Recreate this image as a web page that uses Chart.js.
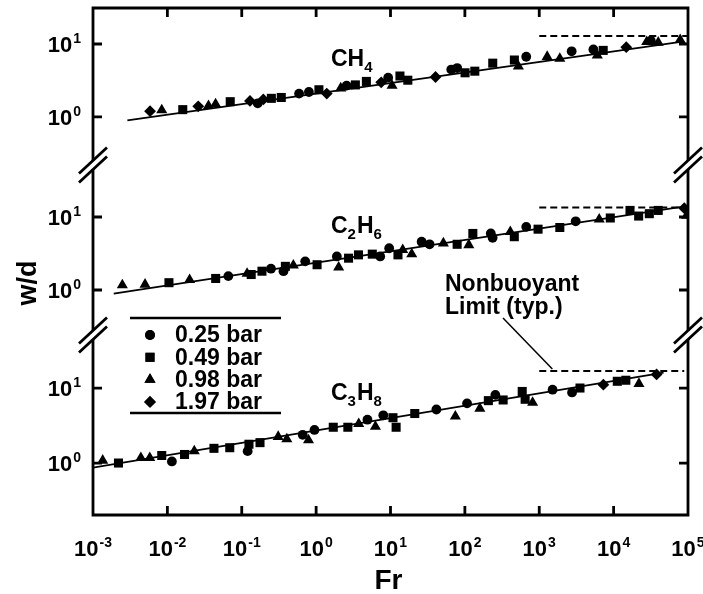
<!DOCTYPE html>
<html>
<head>
<meta charset="utf-8">
<script src="https://cdn.jsdelivr.net/npm/chart.js@4.4.1/dist/chart.umd.min.js"></script>
<style>
  html, body { margin: 0; padding: 0; background: #fff; }
  #wrap { width: 703px; height: 594px; position: relative; }
</style>
</head>
<body>
<div id="wrap"><canvas id="chart"></canvas></div>
<script>
/* ── Data: [Fr, w/d] pairs ────────────────────────────────────────── */

const PRESSURES = ['0.25 bar', '0.49 bar', '0.98 bar', '1.97 bar'];
const MARKERS = ['circle', 'rect', 'triangle', 'rectRot'];
const MARKER_RADII = [4.9, 6.4, 6.4, 5.9];

// CH4
const CH4_025 = [[0.164, 1.54], [0.59, 2.09], [0.80, 2.20], [2.57, 2.69], [9.3, 3.46], [65.6, 4.46], [78.8, 4.68], [668, 6.68], [2727, 7.94], [5346, 8.42], [31600, 11.1]];
const CH4_049 = [[0.0161, 1.26], [0.07, 1.62], [0.25, 1.80], [0.34, 1.85], [1.09, 2.36], [3.37, 2.75], [4.74, 3.07], [13.4, 3.64], [17.1, 3.19], [100.6, 4.03], [136, 4.24], [237, 5.46], [463, 6.03], [7244, 8.17]];
const CH4_098 = [[0.0084, 1.24], [0.0357, 1.42], [0.0445, 1.50], [2.14, 2.48], [10.5, 2.69], [524, 4.93], [1278, 6.68], [1890, 6.32], [6030, 7.02], [27860, 10.7], [39800, 10.5], [78500, 11.4]];
const CH4_197 = [[0.00585, 1.20], [0.026, 1.40], [0.129, 1.66], [0.195, 1.74], [1.39, 2.09], [7.5, 2.98], [40.3, 3.53], [14790, 9.04]];
const CH4_FIT = [[0.0029, 0.90], [80000, 10.7]];
const CH4_LIMIT = [[1000, 12.9], [100000, 12.9]];

// C2H6
const C2H6_025 = [[0.066, 1.55], [0.247, 1.96], [0.364, 1.81], [0.713, 2.47], [1.90, 2.88], [7.27, 2.88], [9.6, 3.73], [26.2, 4.59], [33.5, 4.23], [223, 5.95], [236, 5.2], [668, 7.33], [3090, 8.72]];
const C2H6_049 = [[0.0105, 1.26], [0.0446, 1.44], [0.134, 1.63], [0.187, 1.81], [0.386, 2.11], [1.03, 2.22], [2.73, 2.73], [3.71, 3.03], [5.69, 3.10], [12.6, 3.03], [78.7, 4.23], [128, 5.95], [462, 5.37], [964, 6.81], [1890, 7.18], [9020, 9.69], [16600, 12.3], [21700, 10.3], [30200, 11.1], [39800, 12.3]];
const C2H6_098 = [[0.00248, 1.17], [0.00501, 1.19], [0.0199, 1.38], [0.118, 1.68], [0.494, 2.18], [2.01, 2.04], [14.6, 3.55], [19.3, 3.10], [51.4, 4.37], [113, 4.14], [408, 6.27], [6400, 9.3], [96000, 10.5]];
const C2H6_197 = [[89000, 13.2]];
const C2H6_FIT = [[0.0019, 0.89], [100000, 14.2]];
const C2H6_LIMIT = [[1000, 13.5], [89000, 13.5]];

// C3H8
const C3H8_025 = [[0.0115, 1.05], [0.12, 1.44], [0.66, 2.38], [0.95, 2.76], [4.9, 3.78], [8.0, 4.33], [41.4, 5.17], [107, 6.24], [257, 8.1], [1510, 9.5], [2760, 8.73]];
const C3H8_049 = [[0.0022, 1.0], [0.0084, 1.26], [0.017, 1.30], [0.0423, 1.57], [0.069, 1.60], [0.125, 1.78], [0.176, 1.87], [1.70, 3.0], [2.67, 3.0], [10.8, 4.02], [11.9, 3.0], [21.2, 4.57], [207, 6.79], [327, 6.93], [590, 9.0], [646, 7.08], [3530, 10.0], [11200, 12.3], [14600, 12.7]];
const C3H8_098 = [[0.00135, 1.08], [0.0044, 1.17], [0.0058, 1.17], [0.023, 1.44], [0.309, 2.24], [0.404, 2.08], [0.79, 2.02], [3.74, 3.33], [6.27, 3.06], [74.5, 4.2], [159, 5.34], [814, 6.38], [21900, 11.4]];
const C3H8_197 = [[7280, 11.1], [37800, 15.2]];
const C3H8_FIT = [[0.001, 0.87], [47000, 16.0]];
const C3H8_LIMIT = [[1000, 16.9], [89000, 16.9]];

// gas names: alternating normal / subscript pieces
const CH4_NAME = ['CH', '4'];
const C2H6_NAME = ['C', '2', 'H', '6'];
const C3H8_NAME = ['C', '3', 'H', '8'];

const X_TICKS = [1e-3, 1e-2, 1e-1, 1e0, 1e1, 1e2, 1e3, 1e4, 1e5];
const X_EXPONENTS = ['-3', '-2', '-1', '0', '1', '2', '3', '4', '5'];
const Y_TICKS = [1, 10];
const Y_EXPONENTS = ['0', '1'];

const NOTE_LINES = ['Nonbuoyant', 'Limit (typ.)'];

/* ── Panels ────────────────────────────────────────────────────────── */

const PANELS = [
  { axis: 'y1', name: CH4_NAME, series: [CH4_025, CH4_049, CH4_098, CH4_197], fit: CH4_FIT, limit: CH4_LIMIT,
    min: Math.pow(10, -0.658), max: Math.pow(10, 1.493), weight: 157 },
  { axis: 'y2', name: C2H6_NAME, series: [C2H6_025, C2H6_049, C2H6_098, C2H6_197], fit: C2H6_FIT, limit: C2H6_LIMIT,
    min: Math.pow(10, -0.616), max: Math.pow(10, 1.712), weight: 170 },
  { axis: 'y3', name: C3H8_NAME, series: [C3H8_025, C3H8_049, C3H8_098, C3H8_197], fit: C3H8_FIT, limit: C3H8_LIMIT,
    min: Math.pow(10, -0.693), max: Math.pow(10, 1.707), weight: 180 },
];

const FONT = '"Liberation Sans", Arial, Helvetica, sans-serif';
const toXY = (pts) => pts.map(([x, y]) => ({ x, y }));

const datasets = [];
PANELS.forEach((p) => {
  p.series.forEach((pts, k) => {
    datasets.push({
      type: 'scatter', label: PRESSURES[k], data: toXY(pts), yAxisID: p.axis,
      pointStyle: MARKERS[k], pointRadius: MARKER_RADII[k], pointHoverRadius: MARKER_RADII[k],
      backgroundColor: '#000', borderColor: '#000', borderWidth: 0,
    });
  });
  datasets.push({
    type: 'line', label: 'fit', data: toXY(p.fit), yAxisID: p.axis,
    borderColor: '#000', borderWidth: 1.8, pointRadius: 0, fill: false, tension: 0,
  });
  datasets.push({
    type: 'line', label: 'limit', data: toXY(p.limit), yAxisID: p.axis,
    borderColor: '#000', borderWidth: 2, borderDash: [7, 4], pointRadius: 0, fill: false, tension: 0,
  });
});

// scales are used for mapping only; the frame and labels are drawn below
const hidden = {
  grid: { display: false, drawTicks: false, tickLength: 0 },
  border: { display: false },
  ticks: { display: false, padding: 0 },
};

const scales = {
  x: {
    type: 'logarithmic', position: 'bottom', min: 1e-3, max: 1e5, bounds: 'data',
    afterBuildTicks: (s) => { s.ticks = X_TICKS.map((v) => ({ value: v })); },
    ...hidden,
  },
};
PANELS.forEach((p, i) => {
  scales[p.axis] = {
    type: 'logarithmic', position: 'left', stack: 'wd', stackWeight: p.weight, weight: PANELS.length - i,
    min: p.min, max: p.max, bounds: 'data',
    afterBuildTicks: (s) => { s.ticks = Y_TICKS.map((v) => ({ value: v })); },
    ...hidden,
  };
});

/* ── Drawing helpers ───────────────────────────────────────────────── */

// "10" with a raised exponent; y is the baseline of "10"
function drawPow(ctx, exp, x, y, align) {
  ctx.font = `bold 22px ${FONT}`;
  const wb = ctx.measureText('10').width;
  ctx.font = `bold 14px ${FONT}`;
  const we = ctx.measureText(exp).width;
  const total = wb + 1 + we;
  const x0 = align === 'center' ? x - total / 2 : x - total;
  ctx.textAlign = 'left';
  ctx.textBaseline = 'alphabetic';
  ctx.font = `bold 22px ${FONT}`;
  ctx.fillText('10', x0, y);
  ctx.font = `bold 14px ${FONT}`;
  ctx.fillText(exp, x0 + wb + 1, y - 9);
}

// chemical formula with subscripts, starting at x on baseline y
function drawFormula(ctx, parts, x, y) {
  ctx.textAlign = 'left';
  ctx.textBaseline = 'alphabetic';
  let cx = x;
  parts.forEach((t, i) => {
    const sub = i % 2 === 1;
    ctx.font = sub ? `bold 15px ${FONT}` : `bold 23px ${FONT}`;
    ctx.fillText(t, cx, sub ? y + 6 : y);
    cx += ctx.measureText(t).width + (sub ? 1 : 0);
  });
}

function drawBreak(ctx, x, y) {
  ctx.save();
  ctx.fillStyle = '#fff';
  ctx.fillRect(x - 3, y - 4, 6, 8);
  ctx.strokeStyle = '#000';
  ctx.lineWidth = 2.8;
  ctx.beginPath();
  [-4.5, 4.5].forEach((d) => {
    ctx.moveTo(x - 14, y + 13 + d);
    ctx.lineTo(x + 14, y - 13 + d);
  });
  ctx.stroke();
  ctx.restore();
}

const figure = {
  id: 'figure',
  afterDatasetsDraw(chart) {
    const { ctx, chartArea: a, scales: sc } = chart;
    const ys = PANELS.map((p) => sc[p.axis]);
    const TL = 9;
    ctx.save();
    ctx.strokeStyle = '#000';
    ctx.fillStyle = '#000';
    ctx.lineWidth = 2.8;

    // frame
    ctx.beginPath();
    ctx.moveTo(a.left - 1.4, a.top); ctx.lineTo(a.right + 1.4, a.top);
    ctx.moveTo(a.left - 1.4, a.bottom); ctx.lineTo(a.right + 1.4, a.bottom);
    ctx.moveTo(a.left, a.top); ctx.lineTo(a.left, a.bottom);
    ctx.moveTo(a.right, a.top); ctx.lineTo(a.right, a.bottom);
    ctx.stroke();

    // inward ticks
    ctx.beginPath();
    X_TICKS.forEach((v) => {
      const px = sc.x.getPixelForValue(v);
      if (px <= a.left + 2 || px >= a.right - 2) return;
      ctx.moveTo(px, a.bottom); ctx.lineTo(px, a.bottom - TL);
      ctx.moveTo(px, a.top); ctx.lineTo(px, a.top + TL);
    });
    ys.forEach((s) => Y_TICKS.forEach((v) => {
      const py = s.getPixelForValue(v);
      ctx.moveTo(a.left, py); ctx.lineTo(a.left + TL, py);
      ctx.moveTo(a.right, py); ctx.lineTo(a.right - TL, py);
    }));
    ctx.stroke();

    // axis breaks between panels
    ys.slice(0, -1).forEach((s) => {
      drawBreak(ctx, a.left, s.bottom);
      drawBreak(ctx, a.right, s.bottom);
    });

    // tick labels
    X_TICKS.forEach((v, i) => drawPow(ctx, X_EXPONENTS[i], sc.x.getPixelForValue(v), a.bottom + 41, 'center'));
    ys.forEach((s) => Y_TICKS.forEach((v, i) => drawPow(ctx, Y_EXPONENTS[i], a.left - 12, s.getPixelForValue(v) + 8, 'right')));

    // axis titles
    ctx.textAlign = 'center';
    ctx.textBaseline = 'alphabetic';
    ctx.font = `bold 28px ${FONT}`;
    ctx.fillText('Fr', (a.left + a.right) / 2 - 2, 589);
    ctx.save();
    ctx.translate(36, 283);
    ctx.rotate(-Math.PI / 2);
    ctx.font = `bold 27px ${FONT}`;
    ctx.fillText('w/d', 0, 0);
    ctx.restore();

    // gas names, anchored in data coordinates of each panel
    const gx = sc.x.getPixelForValue(Math.pow(10, 0.2));
    drawFormula(ctx, PANELS[0].name, gx, ys[0].getPixelForValue(Math.pow(10, 0.7)));
    drawFormula(ctx, PANELS[1].name, gx, ys[1].getPixelForValue(Math.pow(10, 0.78)));
    drawFormula(ctx, PANELS[2].name, gx, ys[2].getPixelForValue(Math.pow(10, 0.84)));

    // legend box
    const lx0 = 130, lx1 = 281, ly0 = 318, ly1 = 413;
    ctx.lineWidth = 2.4;
    ctx.beginPath();
    ctx.moveTo(lx0, ly0); ctx.lineTo(lx1, ly0);
    ctx.moveTo(lx0, ly1); ctx.lineTo(lx1, ly1);
    ctx.stroke();
    PRESSURES.forEach((lab, k) => {
      const y = 335 + k * 22.3;
      Chart.helpers.drawPoint(ctx, { pointStyle: MARKERS[k], radius: MARKER_RADII[k], rotation: 0, borderWidth: 0 }, 150, y);
      ctx.fill();
      ctx.font = `bold 23px ${FONT}`;
      ctx.textAlign = 'left';
      ctx.textBaseline = 'middle';
      ctx.fillText(lab, 175, y + 1);
    });

    // nonbuoyant note + leader
    ctx.font = `bold 23px ${FONT}`;
    ctx.textAlign = 'left';
    ctx.textBaseline = 'alphabetic';
    ctx.fillText(NOTE_LINES[0], 445, 291);
    ctx.fillText(NOTE_LINES[1], 445, 314);
    ctx.lineWidth = 1.5;
    ctx.beginPath();
    ctx.moveTo(503, 318);
    ctx.lineTo(sc.x.getPixelForValue(1500), ys[2].getPixelForValue(C3H8_LIMIT[0][1]) - 2);
    ctx.stroke();
    ctx.restore();
  },
};

new Chart(document.getElementById('chart'), {
  type: 'scatter',
  data: { datasets },
  options: {
    responsive: true, maintainAspectRatio: false, animation: false,
    layout: { padding: { left: 93, right: 15, top: 8, bottom: 79 }, autoPadding: false },
    plugins: { legend: { display: false }, tooltip: { enabled: false } },
    scales,
  },
  plugins: [figure],
});
</script>
</body>
</html>
